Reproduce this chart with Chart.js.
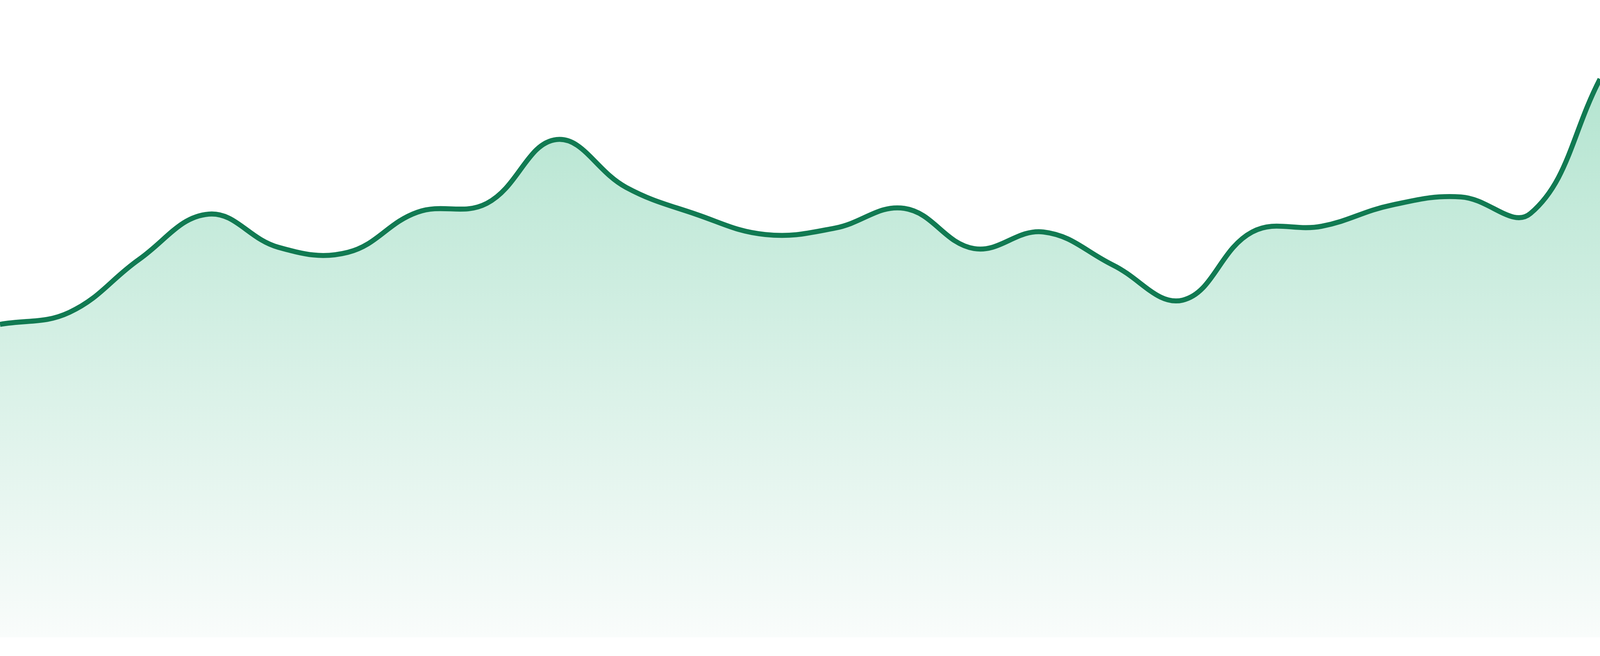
<!DOCTYPE html>
<html>
<head>
<meta charset="utf-8">
<script src="https://cdn.jsdelivr.net/npm/chart.js@4"></script>
<style>
    html, body { margin: 0; padding: 0; background: #ffffff; overflow: hidden; }
    /* chart area stops a little above the bottom edge, as in the picture */
    #wrap { width: 100vw; height: calc(100vh * 1632 / 1680); position: relative; }
</style>
</head>
<body>
<div id="wrap"><canvas id="trendChart"></canvas></div>
<script>
// one value per step (arbitrary units, axis hidden)
const labels = [
    'P1', 'P2', 'P3', 'P4', 'P5', 'P6', 'P7', 'P8', 'P9', 'P10', 'P11', 'P12',
    'P13', 'P14', 'P15', 'P16', 'P17', 'P18', 'P19', 'P20', 'P21', 'P22', 'P23', 'P24',
];
const values = [
    49.1, 51.0, 59.3, 66.4, 61.2, 60.4, 66.7, 68.1, 78.1, 70.6, 66.4, 63.2,
    64.2, 67.3, 61.0, 63.6, 58.4, 52.9, 63.6, 64.5, 67.8, 69.1, 66.5, 87.6,
];
const yMin = 0;
const yMax = 100;

// line was ~15px wide on a 4800px wide picture
const lineWidth = Math.max(2, 15 * window.innerWidth / 4800);

function fillGradient(context) {
    const chart = context.chart;
    const area = chart.chartArea;
    if (!area) return 'rgba(170, 225, 202, 0.6)';
    const g = chart.ctx.createLinearGradient(0, area.top, 0, area.bottom);
    g.addColorStop(0, 'rgb(170, 225, 202)');
    g.addColorStop(1, 'rgb(249, 252, 251)');
    return g;
}

const canvas = document.getElementById('trendChart');

// eslint-disable-next-line no-new
new Chart(canvas, {
    type: 'line',
    data: {
        labels: labels,
        datasets: [
            {
                data: values,
                borderColor: '#117a52',
                borderWidth: lineWidth,
                backgroundColor: fillGradient,
                fill: 'origin',
                tension: 0.4,
                pointRadius: 0,
                pointHoverRadius: 0,
            },
        ],
    },
    options: {
        responsive: true,
        maintainAspectRatio: false,
        animation: false,
        layout: { padding: 0 },
        plugins: {
            legend: { display: false },
            tooltip: { enabled: false },
        },
        scales: {
            x: { display: false, offset: false },
            y: { display: false, min: yMin, max: yMax },
        },
    },
});
</script>
</body>
</html>
